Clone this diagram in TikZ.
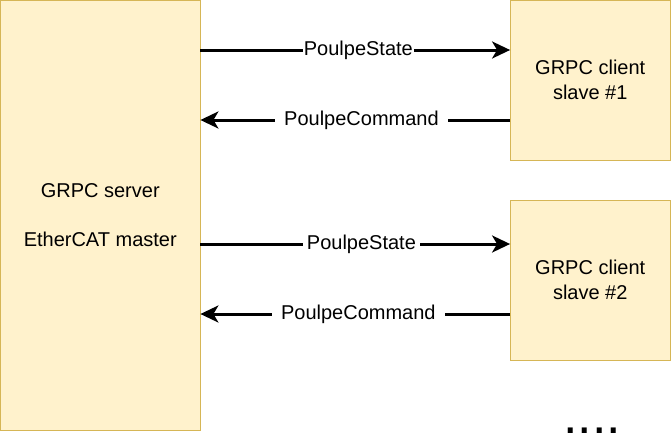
\documentclass[tikz,border=0pt]{standalone}
\usepackage{fontspec}
\setmainfont{Liberation Sans}
\usetikzlibrary{arrows.meta}

\definecolor{boxfill}{HTML}{FFF2CC}
\definecolor{boxline}{HTML}{D6B656}

\tikzset{
    unit/.style={draw=boxline,fill=boxfill,line width=0.8pt,inner sep=0pt,
        align=center,font=\fontsize{20}{25}\selectfont},
    link/.style={line width=3pt,-{Stealth[length=18pt,width=17pt,inset=5pt]}},
    msg/.style={fill=white,inner sep=0pt,inner xsep=4pt,minimum height=18pt,
        font=\fontsize{20}{24}\selectfont}
}

\begin{document}
\begin{tikzpicture}[x=1pt,y=-1pt]
    % page size
    \useasboundingbox (0,0) rectangle (671,447);
    % the boxes
    \node[unit,minimum width=199.5pt,minimum height=429.5pt] (server) at (100.25,215.25)
        {GRPC server\\[24pt]EtherCAT master};
    \node[unit,minimum width=159.5pt,minimum height=159.5pt] (client1) at (590.25,80.25)
        {GRPC client\\slave \#1};
    \node[unit,minimum width=159.5pt,minimum height=159.5pt] (client2) at (590.25,280.25)
        {GRPC client\\slave \#2};
    % messages between server and slaves
    \draw[link] (server.east |- 0,50) -- (client1.west |- 0,50)
        node[msg,pos=0.51,inner xsep=1pt] {PoulpeState};
    \draw[link] (client1.west |- 0,120) -- (server.east |- 0,120)
        node[msg,pos=0.48,inner xsep=9pt] {PoulpeCommand};
    \draw[link] (server.east |- 0,244) -- (client2.west |- 0,244)
        node[msg,pos=0.52] {PoulpeState};
    \draw[link] (client2.west |- 0,314) -- (server.east |- 0,314)
        node[msg,pos=0.49,inner xsep=9pt] {PoulpeCommand};
    % more slaves
    \node[anchor=base,inner sep=0pt,font=\fontsize{52}{52}\selectfont] (more) at (592,433) {....};
\end{tikzpicture}
\end{document}
